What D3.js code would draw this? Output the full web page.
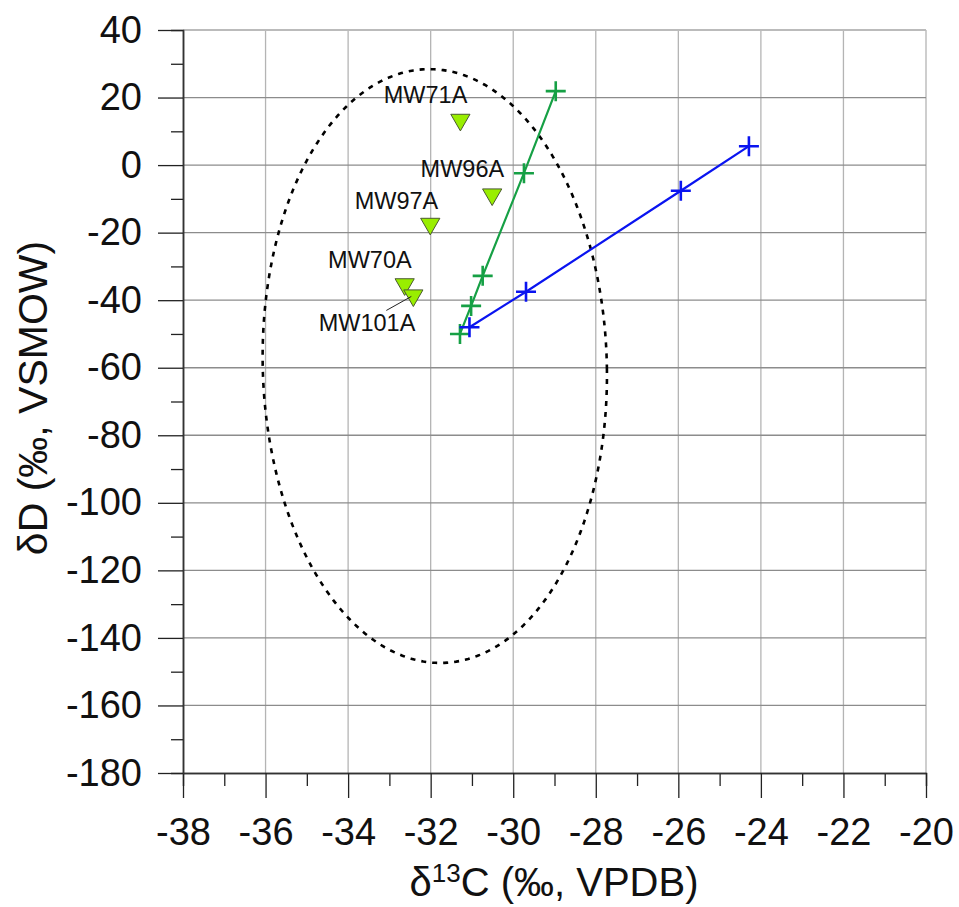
<!DOCTYPE html>
<html>
<head>
<meta charset="utf-8">
<script src="https://cdn.jsdelivr.net/npm/d3@7"></script>
<style>
  body { margin: 0; background: #fff; }
  svg { font-family: "Liberation Sans", Arial, sans-serif; }
</style>
</head>
<body>
<svg id="chart" width="959" height="907"></svg>
<script>
"use strict";

// tick labels
const xTicks = d3.range(-38, -19, 2);
const yTicks = d3.range(-180, 41, 20);

// samples (triangles)
const sampleNames = ["MW71A", "MW96A", "MW97A", "MW70A", "MW101A"];
const sampleC = [-31.28, -30.51, -32.01, -32.63, -32.42];
const sampleD = [13.7, -8.4, -17.1, -35.0, -38.3];

// green mixing line
const greenC = [-31.29, -31.02, -30.74, -29.74, -28.97];
const greenD = [-50.0, -41.7, -32.8, -2.4, 21.9];

// blue mixing line
const blueC = [-31.06, -29.69, -25.94, -24.29];
const blueD = [-48.0, -37.5, -7.6, 5.6];

// dashed ellipse (centre, half axes)
const ellC = -31.9, ellD = -59.5, ellRx = 4.17, ellRy = 87.9;

const svg = d3.select("#chart");
const mLeft = 183, mTop = 30, w = 743, h = 743;

const x = d3.scaleLinear().domain([-38, -20]).range([mLeft, mLeft + w]);
const y = d3.scaleLinear().domain([-180, 40]).range([mTop + h, mTop]);

// grid
const grid = svg.append("g");
grid.selectAll("line.v")
  .data(xTicks.slice(1))
  .enter()
  .append("line")
  .attr("x1", (d) => x(d)).attr("x2", (d) => x(d))
  .attr("y1", mTop).attr("y2", mTop + h)
  .attr("stroke", "#b4b4b4").attr("stroke-width", 1.3);
grid.selectAll("line.h")
  .data(yTicks.slice(1))
  .enter()
  .append("line")
  .attr("x1", mLeft).attr("x2", mLeft + w)
  .attr("y1", (d) => y(d)).attr("y2", (d) => y(d))
  .attr("stroke", (d) => (d === 40 ? "#bbbbbb" : "#8c8c8c"))
  .attr("stroke-width", (d) => (d === 40 ? 2 : 1.3));

// axes
const axisFont = (g) => {
  g.select(".domain").attr("stroke", "#333").attr("stroke-width", 1.5);
  g.selectAll(".tick line").attr("stroke", "#222").attr("stroke-width", 1.3);
  g.selectAll("text").attr("font-size", 38).attr("fill", "#111")
    .attr("font-family", "Liberation Sans, Arial, sans-serif");
};
const plain = (d) => String(d);

const xMinor = d3.range(-37, -20, 2);
svg.append("g")
  .attr("transform", `translate(0,${mTop + h})`)
  .call(d3.axisBottom(x).tickValues(xMinor).tickSize(13).tickFormat(""))
  .call(axisFont);
svg.append("g")
  .attr("transform", `translate(0,${mTop + h})`)
  .call(d3.axisBottom(x).tickValues(xTicks).tickSize(25).tickPadding(20)
    .tickSizeOuter(0).tickFormat(plain))
  .call(axisFont);

const yMinor = d3.range(-170, 40, 20);
svg.append("g")
  .attr("transform", `translate(${mLeft},0)`)
  .call(d3.axisLeft(y).tickValues(yMinor).tickSize(12).tickFormat(""))
  .call(axisFont);
svg.append("g")
  .attr("transform", `translate(${mLeft},0)`)
  .call(d3.axisLeft(y).tickValues(yTicks).tickSize(25).tickPadding(16)
    .tickSizeOuter(0).tickFormat(plain))
  .call(axisFont);

// axis titles
const xt = svg.append("text")
  .attr("x", 554).attr("y", 896)
  .attr("text-anchor", "middle")
  .attr("font-size", 40).attr("fill", "#111");
xt.append("tspan").text("δ");
xt.append("tspan").attr("font-size", 26).attr("dy", -14).text("13");
xt.append("tspan").attr("dy", 14).text("C (‰, VPDB)");

svg.append("text")
  .attr("transform", "translate(47,398) rotate(-90)")
  .attr("text-anchor", "middle")
  .attr("font-size", 41).attr("fill", "#111")
  .text("δD (‰, VSMOW)");

// ellipse, slightly tilted
const ellPts = d3.range(0, 2 * Math.PI + 0.001, Math.PI / 180).map((t) => [
  ellC + ellRx * Math.cos(t) - 0.085 * Math.sin(t),
  ellD + ellRy * Math.sin(t) - 1.0 * Math.cos(t),
]);
svg.append("path")
  .attr("d", d3.line().x((d) => x(d[0])).y((d) => y(d[1]))(ellPts))
  .attr("fill", "none")
  .attr("stroke", "#000")
  .attr("stroke-width", 2.6)
  .attr("stroke-dasharray", "5,6");

// lines with cross markers
const drawSeries = (cs, ds, color, arm) => {
  const pts = cs.map((c, i) => [c, ds[i]]);
  svg.append("path")
    .attr("d", d3.line().x((d) => x(d[0])).y((d) => y(d[1]))(pts))
    .attr("fill", "none").attr("stroke", color).attr("stroke-width", 2.2);
  const g = svg.append("g").attr("stroke", color).attr("stroke-width", 2.6);
  g.selectAll("path")
    .data(pts)
    .enter()
    .append("path")
    .attr("d", (d) => {
      const px = x(d[0]), py = y(d[1]);
      return `M${px - arm},${py}H${px + arm}M${px},${py - arm}V${py + arm}`;
    });
};
drawSeries(greenC, greenD, "#16a045", 10);
drawSeries(blueC, blueD, "#0a14f0", 10);

// sample triangles
const tri = d3.symbol().type(d3.symbolTriangle).size(160);
svg.append("g")
  .selectAll("path")
  .data(sampleNames)
  .enter()
  .append("path")
  .attr("d", tri)
  .attr("transform", (d, i) => `translate(${x(sampleC[i])},${y(sampleD[i]) + 1}) rotate(180)`)
  .attr("fill", "#99ee00")
  .attr("stroke", "#4a5a30")
  .attr("stroke-width", 1);

// sample labels
const labelOffset = {
  MW71A: [7, -16], MW96A: [12, -16], MW97A: [8, -14], MW70A: [7, -15], MW101A: [2, 37],
};
svg.append("g")
  .selectAll("text")
  .data(sampleNames)
  .enter()
  .append("text")
  .attr("x", (d, i) => x(sampleC[i]) + labelOffset[d][0])
  .attr("y", (d, i) => y(sampleD[i]) + labelOffset[d][1])
  .attr("text-anchor", "end")
  .attr("font-size", 23.5)
  .attr("fill", "#111")
  .text((d) => d);

// leader for MW101A
const li = sampleNames.indexOf("MW101A");
svg.append("line")
  .attr("x1", x(sampleC[li]) - 27).attr("y1", y(sampleD[li]) + 16)
  .attr("x2", x(sampleC[li]) - 2).attr("y2", y(sampleD[li]) + 2)
  .attr("stroke", "#222").attr("stroke-width", 1);
</script>
</body>
</html>
